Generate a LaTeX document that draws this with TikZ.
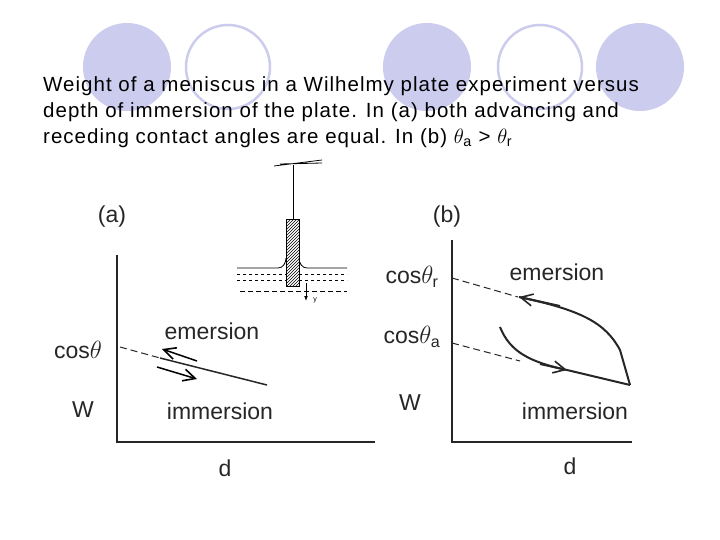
\documentclass[tikz,border=0pt]{standalone}
\usepackage{fontspec}
\setmainfont{Liberation Sans}
\newfontfamily\capfont[LetterSpace=5]{Liberation Sans}
\usetikzlibrary{patterns,arrows.meta}
\definecolor{lav}{HTML}{CCCCEE}
\begin{document}
\begin{tikzpicture}[x=1pt,y=-1pt,
  ax/.style={line width=1.6pt,black!85},
  crv/.style={line width=2pt,black!85},
  dsh/.style={line width=1pt,dashed,dash pattern=on 7pt off 4pt,black!85},
  lab/.style={font=\fontsize{23}{23}\selectfont,text=black!85,inner sep=0pt},
  hd/.style={-{Straight Barb[length=12pt,width=12pt,line width=1.6pt]}}]
\useasboundingbox (0,0) rectangle (720,540);
\fill[white] (0,0) rectangle (720,540);
% background circles
\foreach \cx in {127,427,640} \fill[lav] (\cx,67) circle (44);
\foreach \cx in {228,540} \draw[lav,line width=2.5pt] (\cx,67) circle (42);
% caption
\node[anchor=west,align=left,font=\capfont\fontsize{20.5}{26}\selectfont,inner sep=0pt] (cap) at (43,112)
 {Weight of a meniscus in a Wilhelmy plate experiment versus\\depth of immersion of the plate. In (a) both advancing and\\receding contact angles are equal. In (b) $\theta_{\mathrm a}$ > $\theta_{\mathrm r}$};
% plate sketch
\draw[line width=0.6pt] (293,165) -- (293,220);
\draw[line width=0.8pt] (274,166) -- (322,160) (280,164) -- (322,163);
\draw[line width=1pt,pattern=north east lines] (286,220) rectangle (299,286);
\draw[line width=0.8pt] (237,268) -- (278,268) to[out=0,in=-90] (286,258);
\draw[line width=0.8pt] (347,268) -- (307,268) to[out=180,in=-90] (299,258);
\draw[dashed,line width=0.7pt] (237,274) -- (286,274) (299,274) -- (347,274);
\draw[dashed,line width=0.7pt] (237,280) -- (286,280) (299,280) -- (347,280);
\draw[dashed,line width=0.5pt,dash pattern=on 5pt off 3pt] (240,291) -- (347,291);
\coordinate (ya) at (306,283); \coordinate (yb) at (306,301);
\draw[-{Latex[length=5pt]},line width=0.8pt] (ya) -- (yb);
\node[font=\fontsize{7}{7}\selectfont] (yl) at (315,300) {y};
% graph (a)
\node[lab] (la) at (112,217) {(a)};
\draw[ax] (117,255) -- (117,442) -- (375,442);
\node[lab] (ca) at (78,350) {cos$\theta$};
\node[lab] (wa) at (83,410) {W};
\node[lab] (da) at (225,468) {d};
\node[lab] (ema) at (212,331) {emersion};
\node[lab] (ima) at (220,411) {immersion};
\draw[dsh] (120,347) -- (160,358);
\draw[crv,line width=1.5pt] (160,358) -- (267,385);
\draw[hd,line width=1.5pt] (197,361) -- (162,349);
\draw[hd,line width=1.5pt] (157,367) -- (197,379);
% graph (b)
\node[lab] (lb) at (447,217) {(b)};
\draw[ax] (452,240) -- (452,442) -- (632,442);
\node[lab] (cr) at (412,277) {cos$\theta_{\mathrm r}$};
\node[lab] (cb) at (412,337) {cos$\theta_{\mathrm a}$};
\node[lab] (wb) at (410,403) {W};
\node[lab] (db) at (570,466) {d};
\node[lab] (emb) at (557,272) {emersion};
\node[lab] (imb) at (575,411) {immersion};
\draw[dsh] (452,278) -- (518,297);
\draw[dsh] (452,343) -- (520,361);
\draw[crv] (630,385) -- (620,350) .. controls (605,322) and (580,310) .. (519,297);
\draw[hd,crv] (560,306) -- (519,297);
\draw[crv] (500,327) .. controls (510,352) and (530,362) .. (567,370) -- (630,385);
\draw[hd,crv] (540,364) -- (567,370);
\end{tikzpicture}
\end{document}
